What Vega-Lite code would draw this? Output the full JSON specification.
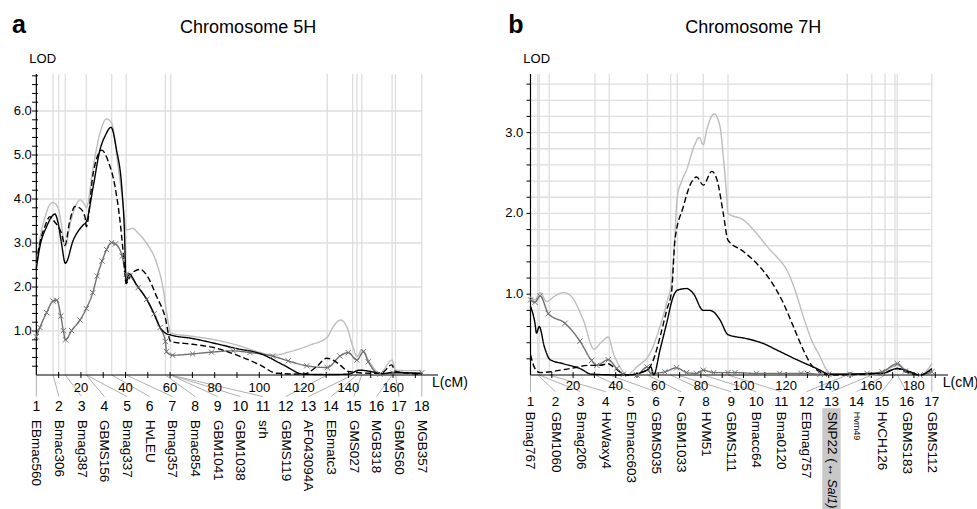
{
  "$schema": "https://vega.github.io/schema/vega-lite/v6.json",
  "padding": 0,
  "spacing": 0,
  "bounds": "flush",
  "background": "#ffffff",
  "config": {"view": {"stroke": null}, "font": "Liberation Sans", "axis": {"disable": true}},
  "datasets": {
    "a_hgrid": [{"v":1},{"v":2},{"v":3},{"v":4},{"v":5},{"v":6}],
    "a_yticks": [{"v":0.2},{"v":0.4},{"v":0.6},{"v":0.8},{"v":1},{"v":1.2},{"v":1.4},{"v":1.6},{"v":1.8},{"v":2},{"v":2.2},{"v":2.4},{"v":2.6},{"v":2.8},{"v":3},{"v":3.2},{"v":3.4},{"v":3.6},{"v":3.8},{"v":4},{"v":4.2},{"v":4.4},{"v":4.6},{"v":4.8},{"v":5},{"v":5.2},{"v":5.4},{"v":5.6},{"v":5.8},{"v":6},{"v":6.2},{"v":6.4},{"v":6.6},{"v":6.8}],
    "a_xticks": [{"v":10},{"v":20},{"v":30},{"v":40},{"v":50},{"v":60},{"v":70},{"v":80},{"v":90},{"v":100},{"v":110},{"v":120},{"v":130},{"v":140},{"v":150},{"v":160},{"v":170}],
    "a_vgrid": [{"pos":7.5},{"pos":10.0},{"pos":13.0},{"pos":22.4},{"pos":33.8},{"pos":40.3},{"pos":57.9},{"pos":60.3},{"pos":130.5},{"pos":141.9},{"pos":143.8},{"pos":146.0},{"pos":159.6},{"pos":161.1},{"pos":172.9}],
    "a_markers": [
      {"i":1,"name":"EBmac560","pos":0},{"i":2,"name":"Bmac306","pos":7.5},{"i":3,"name":"Bmag387","pos":13.0},
      {"i":4,"name":"GBMS156","pos":22.4},{"i":5,"name":"Bmag337","pos":22.4},{"i":6,"name":"HvLEU","pos":33.8},
      {"i":7,"name":"Bmag357","pos":40.3},{"i":8,"name":"Bmac854","pos":57.9},{"i":9,"name":"GBM1041","pos":60.3},
      {"i":10,"name":"GBM1038","pos":60.3},{"i":11,"name":"srh","pos":60.3},{"i":12,"name":"GBMS119","pos":130.5},
      {"i":13,"name":"AF043094A","pos":141.9},{"i":14,"name":"EBmatc3","pos":143.8},{"i":15,"name":"GMS027","pos":146.0},
      {"i":16,"name":"MGB318","pos":159.6},{"i":17,"name":"GBMS60","pos":161.1},{"i":18,"name":"MGB357","pos":172.9}
    ],
    "a_curves": [
      {"s":"L","cM":0,"lod":2.5},{"s":"L","cM":1.6,"lod":3.1},{"s":"L","cM":4.0,"lod":3.6},{"s":"L","cM":6.1,"lod":3.88},{"s":"L","cM":7.6,"lod":3.92},{"s":"L","cM":9.8,"lod":3.79},{"s":"L","cM":11.3,"lod":3.4},{"s":"L","cM":12.8,"lod":2.92},{"s":"L","cM":15.5,"lod":3.5},{"s":"L","cM":18.1,"lod":3.9},{"s":"L","cM":19.6,"lod":3.98},{"s":"L","cM":21.8,"lod":3.86},{"s":"L","cM":22.4,"lod":3.8},{"s":"L","cM":25.5,"lod":4.73},{"s":"L","cM":28.5,"lod":5.49},{"s":"L","cM":31.5,"lod":5.82},{"s":"L","cM":33.8,"lod":5.72},{"s":"L","cM":36.7,"lod":4.73},{"s":"L","cM":39.0,"lod":3.83},{"s":"L","cM":40.3,"lod":3.3},{"s":"L","cM":43.5,"lod":3.33},{"s":"L","cM":45.0,"lod":3.26},{"s":"L","cM":49.5,"lod":2.99},{"s":"L","cM":54.0,"lod":2.54},{"s":"L","cM":57.0,"lod":1.93},{"s":"L","cM":58.5,"lod":1.4},{"s":"L","cM":60.3,"lod":0.95},{"s":"L","cM":70,"lod":0.88},{"s":"L","cM":80,"lod":0.8},{"s":"L","cM":90,"lod":0.68},{"s":"L","cM":100,"lod":0.52},{"s":"L","cM":106.3,"lod":0.45},{"s":"L","cM":113.8,"lod":0.53},{"s":"L","cM":122.7,"lod":0.68},{"s":"L","cM":130.5,"lod":0.86},{"s":"L","cM":133.2,"lod":1.1},{"s":"L","cM":136.5,"lod":1.25},{"s":"L","cM":139.2,"lod":1.1},{"s":"L","cM":142.0,"lod":0.64},{"s":"L","cM":143.8,"lod":0.42},{"s":"L","cM":146.0,"lod":0.57},{"s":"L","cM":149.7,"lod":0.27},{"s":"L","cM":154.1,"lod":0.04},{"s":"L","cM":159.6,"lod":0.34},{"s":"L","cM":161.1,"lod":0.11},{"s":"L","cM":166,"lod":0.1},{"s":"L","cM":172.9,"lod":0.1},
      {"s":"X","cM":0,"lod":0.87},{"s":"X","cM":1.6,"lod":1.08},{"s":"X","cM":4.6,"lod":1.42},{"s":"X","cM":7.5,"lod":1.68},{"s":"X","cM":9.1,"lod":1.7},{"s":"X","cM":11.0,"lod":1.34},{"s":"X","cM":12.1,"lod":1.01},{"s":"X","cM":13.1,"lod":0.8},{"s":"X","cM":15.8,"lod":1.01},{"s":"X","cM":19.6,"lod":1.25},{"s":"X","cM":22.4,"lod":1.51},{"s":"X","cM":25.3,"lod":1.87},{"s":"X","cM":27.3,"lod":2.25},{"s":"X","cM":29.5,"lod":2.59},{"s":"X","cM":31.5,"lod":2.85},{"s":"X","cM":33.8,"lod":3.01},{"s":"X","cM":35.5,"lod":2.98},{"s":"X","cM":38.5,"lod":2.7},{"s":"X","cM":40.3,"lod":2.29},{"s":"X","cM":42.0,"lod":2.25},{"s":"X","cM":45.7,"lod":1.99},{"s":"X","cM":49.5,"lod":1.72},{"s":"X","cM":52.8,"lod":1.39},{"s":"X","cM":55.5,"lod":1.08},{"s":"X","cM":57.9,"lod":0.76},{"s":"X","cM":58.4,"lod":0.53},{"s":"X","cM":61.1,"lod":0.45},{"s":"X","cM":70.1,"lod":0.48},{"s":"X","cM":78.6,"lod":0.52},{"s":"X","cM":88.3,"lod":0.55},{"s":"X","cM":95.8,"lod":0.51},{"s":"X","cM":106,"lod":0.43},{"s":"X","cM":113,"lod":0.32},{"s":"X","cM":121.3,"lod":0.21},{"s":"X","cM":130.5,"lod":0.17},{"s":"X","cM":136.2,"lod":0.43},{"s":"X","cM":139.9,"lod":0.51},{"s":"X","cM":143.8,"lod":0.34},{"s":"X","cM":146.7,"lod":0.53},{"s":"X","cM":148.9,"lod":0.3},{"s":"X","cM":154.1,"lod":0.02},{"s":"X","cM":160,"lod":0.04},{"s":"X","cM":172.9,"lod":0.05},
      {"s":"D","cM":0,"lod":2.55},{"s":"D","cM":1.6,"lod":3.0},{"s":"D","cM":4.0,"lod":3.4},{"s":"D","cM":6.1,"lod":3.6},{"s":"D","cM":7.6,"lod":3.52},{"s":"D","cM":9.8,"lod":3.37},{"s":"D","cM":11.3,"lod":3.22},{"s":"D","cM":12.8,"lod":2.95},{"s":"D","cM":15.0,"lod":3.5},{"s":"D","cM":17.3,"lod":3.83},{"s":"D","cM":19.6,"lod":3.79},{"s":"D","cM":21.8,"lod":3.6},{"s":"D","cM":22.4,"lod":3.37},{"s":"D","cM":25.5,"lod":4.58},{"s":"D","cM":28.5,"lod":5.08},{"s":"D","cM":29.3,"lod":5.11},{"s":"D","cM":32.3,"lod":4.85},{"s":"D","cM":35.3,"lod":4.28},{"s":"D","cM":37.5,"lod":3.52},{"s":"D","cM":39.0,"lod":2.77},{"s":"D","cM":40.3,"lod":2.08},{"s":"D","cM":42.7,"lod":2.31},{"s":"D","cM":46.5,"lod":2.4},{"s":"D","cM":49.5,"lod":2.27},{"s":"D","cM":54.0,"lod":1.78},{"s":"D","cM":57.7,"lod":1.33},{"s":"D","cM":60.3,"lod":0.76},{"s":"D","cM":70,"lod":0.7},{"s":"D","cM":80,"lod":0.62},{"s":"D","cM":90,"lod":0.45},{"s":"D","cM":100.3,"lod":0.23},{"s":"D","cM":107.8,"lod":0.04},{"s":"D","cM":120,"lod":0.02},{"s":"D","cM":125.7,"lod":0.19},{"s":"D","cM":130.2,"lod":0.38},{"s":"D","cM":133.2,"lod":0.34},{"s":"D","cM":136.2,"lod":0.23},{"s":"D","cM":140.0,"lod":0.08},{"s":"D","cM":150,"lod":0.04},{"s":"D","cM":155,"lod":0.05},{"s":"D","cM":159.4,"lod":0.23},{"s":"D","cM":161.1,"lod":0.08},{"s":"D","cM":172.9,"lod":0.02},
      {"s":"B","cM":0,"lod":2.42},{"s":"B","cM":1.6,"lod":2.92},{"s":"B","cM":4.6,"lod":3.37},{"s":"B","cM":7.6,"lod":3.64},{"s":"B","cM":8.3,"lod":3.66},{"s":"B","cM":9.8,"lod":3.45},{"s":"B","cM":11.3,"lod":2.99},{"s":"B","cM":13.0,"lod":2.54},{"s":"B","cM":16.6,"lod":3.07},{"s":"B","cM":21.0,"lod":3.41},{"s":"B","cM":22.4,"lod":3.48},{"s":"B","cM":25.5,"lod":4.28},{"s":"B","cM":28.5,"lod":5.11},{"s":"B","cM":31.0,"lod":5.45},{"s":"B","cM":33.5,"lod":5.63},{"s":"B","cM":36.0,"lod":5.11},{"s":"B","cM":38.3,"lod":4.28},{"s":"B","cM":39.5,"lod":3.3},{"s":"B","cM":40.3,"lod":2.08},{"s":"B","cM":41.5,"lod":2.3},{"s":"B","cM":45.0,"lod":2.05},{"s":"B","cM":49.5,"lod":1.72},{"s":"B","cM":52.8,"lod":1.39},{"s":"B","cM":55.5,"lod":1.08},{"s":"B","cM":58.0,"lod":0.95},{"s":"B","cM":60.3,"lod":0.91},{"s":"B","cM":70,"lod":0.83},{"s":"B","cM":80,"lod":0.72},{"s":"B","cM":90,"lod":0.6},{"s":"B","cM":100.3,"lod":0.49},{"s":"B","cM":110.8,"lod":0.23},{"s":"B","cM":119.7,"lod":0.02},{"s":"B","cM":130,"lod":0.01},{"s":"B","cM":140,"lod":0.02},{"s":"B","cM":145,"lod":0.11},{"s":"B","cM":150,"lod":0.08},{"s":"B","cM":155,"lod":0.03},{"s":"B","cM":160,"lod":0.06},{"s":"B","cM":172.9,"lod":0.03}
    ],
    "b_hgrid": [{"v":0.2},{"v":0.4},{"v":0.6},{"v":0.8},{"v":1},{"v":1.2},{"v":1.4},{"v":1.6},{"v":1.8},{"v":2},{"v":2.2},{"v":2.4},{"v":2.6},{"v":2.8},{"v":3},{"v":3.2},{"v":3.4},{"v":3.6}],
    "b_xticks": [{"v":10},{"v":20},{"v":30},{"v":40},{"v":50},{"v":60},{"v":70},{"v":80},{"v":90},{"v":100},{"v":110},{"v":120},{"v":130},{"v":140},{"v":150},{"v":160},{"v":170},{"v":180},{"v":190}],
    "b_vgrid": [{"pos":3.4},{"pos":4.1},{"pos":8.8},{"pos":30.3},{"pos":37.0},{"pos":54.9},{"pos":65.8},{"pos":68.9},{"pos":81.1},{"pos":92.7},{"pos":148.7},{"pos":160.2},{"pos":166.4},{"pos":171.1},{"pos":172.2},{"pos":188.4}],
    "b_markers": [
      {"i":1,"name":"Bmag767","pos":0},{"i":2,"name":"GBM1060","pos":3.4},{"i":3,"name":"Bmag206","pos":4.1},
      {"i":4,"name":"HvWaxy4","pos":8.8},{"i":5,"name":"Ebmacc603","pos":30.3},{"i":6,"name":"GBMS035","pos":37.0},
      {"i":7,"name":"GBM1033","pos":54.9},{"i":8,"name":"HVM51","pos":65.8},{"i":9,"name":"GBMS111","pos":68.9},
      {"i":10,"name":"Bmacc64","pos":81.1},{"i":11,"name":"Bma0120","pos":92.7},{"i":12,"name":"EBmag757","pos":148.7},
      {"i":13,"name":"SNP22 (↔","it":"Sal1)","pos":160.2},{"i":14,"name":"Hvm49","pos":166.4},{"i":15,"name":"HvCH126","pos":171.1},
      {"i":16,"name":"GBMS183","pos":172.2},{"i":17,"name":"GBMS112","pos":188.4}
    ],
    "b_curves": [
      {"s":"L","cM":0,"lod":0.97},{"s":"L","cM":2.1,"lod":0.93},{"s":"L","cM":4.5,"lod":1.02},{"s":"L","cM":7.6,"lod":0.91},{"s":"L","cM":11,"lod":0.97},{"s":"L","cM":15.4,"lod":1.02},{"s":"L","cM":18.5,"lod":0.99},{"s":"L","cM":24.8,"lod":0.68},{"s":"L","cM":29.8,"lod":0.32},{"s":"L","cM":33.4,"lod":0.41},{"s":"L","cM":36.5,"lod":0.47},{"s":"L","cM":38.9,"lod":0.27},{"s":"L","cM":42.0,"lod":0.1},{"s":"L","cM":45.2,"lod":0.0},{"s":"L","cM":49.9,"lod":0.1},{"s":"L","cM":56.1,"lod":0.27},{"s":"L","cM":60.8,"lod":0.6},{"s":"L","cM":63.9,"lod":0.89},{"s":"L","cM":66.3,"lod":1.18},{"s":"L","cM":67.5,"lod":1.6},{"s":"L","cM":68.9,"lod":2.2},{"s":"L","cM":71,"lod":2.4},{"s":"L","cM":73.3,"lod":2.54},{"s":"L","cM":76.8,"lod":2.83},{"s":"L","cM":79.2,"lod":2.94},{"s":"L","cM":81.1,"lod":2.85},{"s":"L","cM":82.7,"lod":3.03},{"s":"L","cM":85.5,"lod":3.22},{"s":"L","cM":86.2,"lod":3.23},{"s":"L","cM":89.0,"lod":3.07},{"s":"L","cM":90.5,"lod":2.7},{"s":"L","cM":92.0,"lod":2.25},{"s":"L","cM":92.7,"lod":2.0},{"s":"L","cM":99.9,"lod":1.92},{"s":"L","cM":106.2,"lod":1.75},{"s":"L","cM":112.4,"lod":1.55},{"s":"L","cM":116,"lod":1.45},{"s":"L","cM":120.3,"lod":1.3},{"s":"L","cM":124.2,"lod":1.05},{"s":"L","cM":128.1,"lod":0.72},{"s":"L","cM":132.0,"lod":0.43},{"s":"L","cM":135.9,"lod":0.23},{"s":"L","cM":139.1,"lod":0.06},{"s":"L","cM":142.2,"lod":0.0},{"s":"L","cM":160,"lod":0.0},{"s":"L","cM":165.6,"lod":0.04},{"s":"L","cM":172.2,"lod":0.12},{"s":"L","cM":176.6,"lod":0.06},{"s":"L","cM":182.9,"lod":0.0},{"s":"L","cM":188.4,"lod":0.14},
      {"s":"X","cM":0,"lod":0.93},{"s":"X","cM":2.1,"lod":0.9},{"s":"X","cM":4.5,"lod":0.98},{"s":"X","cM":8.4,"lod":0.76},{"s":"X","cM":16.2,"lod":0.64},{"s":"X","cM":23.2,"lod":0.42},{"s":"X","cM":28.7,"lod":0.18},{"s":"X","cM":31.1,"lod":0.12},{"s":"X","cM":36.5,"lod":0.19},{"s":"X","cM":40.5,"lod":0.08},{"s":"X","cM":43.6,"lod":0.01},{"s":"X","cM":50,"lod":0.0},{"s":"X","cM":54.6,"lod":0.1},{"s":"X","cM":56.5,"lod":0.02},{"s":"X","cM":63.1,"lod":0.04},{"s":"X","cM":68.6,"lod":0.09},{"s":"X","cM":73.3,"lod":0.03},{"s":"X","cM":78,"lod":0.02},{"s":"X","cM":81.1,"lod":0.06},{"s":"X","cM":86,"lod":0.03},{"s":"X","cM":92.7,"lod":0.03},{"s":"X","cM":96,"lod":0.03},{"s":"X","cM":106,"lod":0.02},{"s":"X","cM":117,"lod":0.02},{"s":"X","cM":127,"lod":0.02},{"s":"X","cM":130,"lod":0.02},{"s":"X","cM":136,"lod":0.01},{"s":"X","cM":140,"lod":0.01},{"s":"X","cM":150,"lod":0.01},{"s":"X","cM":158,"lod":0.02},{"s":"X","cM":165,"lod":0.04},{"s":"X","cM":172.2,"lod":0.14},{"s":"X","cM":176,"lod":0.05},{"s":"X","cM":182.9,"lod":0.0},{"s":"X","cM":188.4,"lod":0.04},
      {"s":"D","cM":0,"lod":0.25},{"s":"D","cM":2.1,"lod":0.08},{"s":"D","cM":4.5,"lod":0.03},{"s":"D","cM":9.2,"lod":0.04},{"s":"D","cM":18.5,"lod":0.08},{"s":"D","cM":27.9,"lod":0.12},{"s":"D","cM":32.6,"lod":0.12},{"s":"D","cM":36.5,"lod":0.14},{"s":"D","cM":38.9,"lod":0.1},{"s":"D","cM":45.2,"lod":0.0},{"s":"D","cM":54.6,"lod":0.06},{"s":"D","cM":57.7,"lod":0.19},{"s":"D","cM":60.8,"lod":0.47},{"s":"D","cM":63.9,"lod":0.8},{"s":"D","cM":66.3,"lod":1.05},{"s":"D","cM":67.8,"lod":1.67},{"s":"D","cM":71.7,"lod":2.08},{"s":"D","cM":74.9,"lod":2.35},{"s":"D","cM":78.0,"lod":2.45},{"s":"D","cM":81.1,"lod":2.35},{"s":"D","cM":85.1,"lod":2.52},{"s":"D","cM":87.4,"lod":2.43},{"s":"D","cM":90.5,"lod":2.0},{"s":"D","cM":92.7,"lod":1.67},{"s":"D","cM":99.9,"lod":1.53},{"s":"D","cM":106.2,"lod":1.38},{"s":"D","cM":112.4,"lod":1.18},{"s":"D","cM":118.7,"lod":0.89},{"s":"D","cM":123.4,"lod":0.6},{"s":"D","cM":128.1,"lod":0.31},{"s":"D","cM":132.0,"lod":0.12},{"s":"D","cM":135.9,"lod":0.04},{"s":"D","cM":140,"lod":0.0},{"s":"D","cM":165,"lod":0.02},{"s":"D","cM":172.2,"lod":0.08},{"s":"D","cM":176,"lod":0.04},{"s":"D","cM":182.9,"lod":0.0},{"s":"D","cM":188.4,"lod":0.07},
      {"s":"B","cM":0,"lod":0.85},{"s":"B","cM":2.1,"lod":0.64},{"s":"B","cM":2.8,"lod":0.52},{"s":"B","cM":4.1,"lod":0.6},{"s":"B","cM":6.5,"lod":0.35},{"s":"B","cM":9.2,"lod":0.19},{"s":"B","cM":15.4,"lod":0.14},{"s":"B","cM":23.2,"lod":0.08},{"s":"B","cM":28.7,"lod":0.01},{"s":"B","cM":45,"lod":0.0},{"s":"B","cM":54.6,"lod":0.06},{"s":"B","cM":56.5,"lod":0.1},{"s":"B","cM":57.8,"lod":0.0},{"s":"B","cM":60.8,"lod":0.31},{"s":"B","cM":63.9,"lod":0.64},{"s":"B","cM":67.0,"lod":0.97},{"s":"B","cM":68.9,"lod":1.05},{"s":"B","cM":73.3,"lod":1.07},{"s":"B","cM":76.4,"lod":1.01},{"s":"B","cM":81.1,"lod":0.8},{"s":"B","cM":84,"lod":0.8},{"s":"B","cM":86,"lod":0.78},{"s":"B","cM":89.0,"lod":0.68},{"s":"B","cM":92.7,"lod":0.5},{"s":"B","cM":101.5,"lod":0.45},{"s":"B","cM":109.3,"lod":0.39},{"s":"B","cM":115.6,"lod":0.31},{"s":"B","cM":125.0,"lod":0.19},{"s":"B","cM":134.4,"lod":0.08},{"s":"B","cM":140.6,"lod":0.01},{"s":"B","cM":165,"lod":0.02},{"s":"B","cM":172.2,"lod":0.08},{"s":"B","cM":178.2,"lod":0.04},{"s":"B","cM":182.9,"lod":0.0},{"s":"B","cM":188.4,"lod":0.08}
    ]
  },
  "hconcat": [
    {
      "width": 488,
      "height": 509,
      "layer": [
        {"data": {"name": "a_hgrid"}, "mark": {"type": "rule", "color": "#dedede", "strokeWidth": 1.3},
         "encoding": {
           "y": {"field": "v", "type": "quantitative", "scale": {"domain": [-3.045, 8.523], "nice": false, "zero": false}, "axis": null},
           "x": {"datum": 0, "type": "quantitative", "scale": {"domain": [-16.3, 202.6], "nice": false, "zero": false}, "axis": null},
           "x2": {"datum": 172.9}
         }},
        {"data": {"name": "a_vgrid"}, "mark": {"type": "rule", "color": "#dedede", "strokeWidth": 1.3},
         "encoding": {
           "x": {"field": "pos", "type": "quantitative", "scale": {"domain": [-16.3, 202.6], "nice": false, "zero": false}, "axis": null},
           "y": {"datum": 0, "type": "quantitative", "scale": {"domain": [-3.045, 8.523], "nice": false, "zero": false}, "axis": null},
           "y2": {"datum": 6.84}
         }},
        {"data": {"name": "a_markers"}, "transform": [{"calculate": "(datum.i - 1) * 10.17", "as": "slot"}],
         "mark": {"type": "rule", "color": "#b0b0b0", "strokeWidth": 1},
         "encoding": {
           "x": {"field": "pos", "type": "quantitative", "scale": {"domain": [-16.3, 202.6], "nice": false, "zero": false}, "axis": null},
           "x2": {"field": "slot"},
           "y": {"datum": 0, "type": "quantitative", "scale": {"domain": [-3.045, 8.523], "nice": false, "zero": false}, "axis": null},
           "y2": {"datum": -0.49}
         }},
        {"data": {"values": [{}]}, "mark": {"type": "rule", "color": "#000000", "strokeWidth": 1.2},
         "encoding": {
           "x": {"datum": 0, "type": "quantitative", "scale": {"domain": [-16.3, 202.6], "nice": false, "zero": false}, "axis": null},
           "y": {"datum": 0, "type": "quantitative", "scale": {"domain": [-3.045, 8.523], "nice": false, "zero": false}, "axis": null},
           "y2": {"datum": 6.84}
         }},
        {"data": {"values": [{}]}, "mark": {"type": "rule", "color": "#000000", "strokeWidth": 1.2},
         "encoding": {
           "x": {"datum": 0, "type": "quantitative", "scale": {"domain": [-16.3, 202.6], "nice": false, "zero": false}, "axis": null},
           "x2": {"datum": 180.2},
           "y": {"datum": 0, "type": "quantitative", "scale": {"domain": [-3.045, 8.523], "nice": false, "zero": false}, "axis": null}
         }},
        {"data": {"name": "a_yticks"},
         "mark": {"type": "point", "shape": "M-1,0L1,0", "size": 36, "filled": false, "stroke": "#000000", "strokeWidth": 1, "opacity": 1},
         "encoding": {
           "x": {"datum": -0.58, "type": "quantitative", "scale": {"domain": [-16.3, 202.6], "nice": false, "zero": false}, "axis": null},
           "y": {"field": "v", "type": "quantitative", "scale": {"domain": [-3.045, 8.523], "nice": false, "zero": false}, "axis": null}
         }},
        {"data": {"name": "a_xticks"},
         "mark": {"type": "point", "shape": "M0,-1L0,1", "size": 36, "filled": false, "stroke": "#000000", "strokeWidth": 1, "opacity": 1},
         "encoding": {
           "x": {"field": "v", "type": "quantitative", "scale": {"domain": [-16.3, 202.6], "nice": false, "zero": false}, "axis": null},
           "y": {"datum": 0, "type": "quantitative", "scale": {"domain": [-3.045, 8.523], "nice": false, "zero": false}, "axis": null}
         }},
        {"data": {"name": "a_hgrid"},
         "mark": {"type": "text", "fontSize": 13, "align": "right", "baseline": "middle", "color": "#000000"},
         "encoding": {
           "x": {"datum": -2.06, "type": "quantitative", "scale": {"domain": [-16.3, 202.6], "nice": false, "zero": false}, "axis": null},
           "y": {"field": "v", "type": "quantitative", "scale": {"domain": [-3.045, 8.523], "nice": false, "zero": false}, "axis": null},
           "text": {"field": "v", "type": "quantitative", "format": ".1f"}
         }},
        {"data": {"name": "a_xticks"}, "transform": [{"filter": "datum.v % 20 == 0"}],
         "mark": {"type": "text", "fontSize": 13, "align": "center", "baseline": "middle", "color": "#000000"},
         "encoding": {
           "x": {"field": "v", "type": "quantitative", "scale": {"domain": [-16.3, 202.6], "nice": false, "zero": false}, "axis": null},
           "y": {"datum": -0.295, "type": "quantitative", "scale": {"domain": [-3.045, 8.523], "nice": false, "zero": false}, "axis": null},
           "text": {"field": "v", "type": "nominal"}
         }},
        {"data": {"name": "a_curves"}, "mark": {"type": "line", "interpolate": "monotone", "strokeWidth": 1.4},
         "encoding": {
           "x": {"field": "cM", "type": "quantitative", "scale": {"domain": [-16.3, 202.6], "nice": false, "zero": false}, "axis": null},
           "y": {"field": "lod", "type": "quantitative", "scale": {"domain": [-3.045, 8.523], "nice": false, "zero": false}, "axis": null},
           "color": {"field": "s", "type": "nominal", "scale": {"domain": ["L","X","D","B"], "range": ["#bdbdbd","#707070","#000000","#000000"]}, "legend": null},
           "strokeDash": {"field": "s", "type": "nominal", "scale": {"domain": ["L","X","D","B"], "range": [[1,0],[1,0],[6,3],[1,0]]}, "legend": null}
         }},
        {"data": {"name": "a_curves"}, "transform": [{"filter": "datum.s == 'X'"}],
         "mark": {"type": "point", "shape": "M-1,-1L1,1M-1,1L1,-1", "size": 28, "filled": false, "stroke": "#707070", "strokeWidth": 1, "opacity": 1},
         "encoding": {
           "x": {"field": "cM", "type": "quantitative", "scale": {"domain": [-16.3, 202.6], "nice": false, "zero": false}, "axis": null},
           "y": {"field": "lod", "type": "quantitative", "scale": {"domain": [-3.045, 8.523], "nice": false, "zero": false}, "axis": null}
         }},
        {"data": {"name": "a_markers"}, "transform": [{"calculate": "(datum.i - 1) * 10.17", "as": "slot"}],
         "mark": {"type": "text", "fontSize": 14, "align": "center", "baseline": "middle", "color": "#000000"},
         "encoding": {
           "x": {"field": "slot", "type": "quantitative", "scale": {"domain": [-16.3, 202.6], "nice": false, "zero": false}, "axis": null},
           "y": {"datum": -0.72, "type": "quantitative", "scale": {"domain": [-3.045, 8.523], "nice": false, "zero": false}, "axis": null},
           "text": {"field": "i", "type": "nominal"}
         }},
        {"data": {"name": "a_markers"}, "transform": [{"calculate": "(datum.i - 1) * 10.17", "as": "slot"}],
         "mark": {"type": "text", "fontSize": 13.5, "align": "left", "baseline": "middle", "angle": 90, "color": "#000000"},
         "encoding": {
           "x": {"field": "slot", "type": "quantitative", "scale": {"domain": [-16.3, 202.6], "nice": false, "zero": false}, "axis": null},
           "y": {"datum": -1.023, "type": "quantitative", "scale": {"domain": [-3.045, 8.523], "nice": false, "zero": false}, "axis": null},
           "text": {"field": "name", "type": "nominal"}
         }},
        {"data": {"values": [{}]}, "mark": {"type": "text", "text": "Chromosome 5H", "fontSize": 18, "align": "center", "baseline": "alphabetic", "color": "#000000"},
         "encoding": {
           "x": {"datum": 95.0, "type": "quantitative", "scale": {"domain": [-16.3, 202.6], "nice": false, "zero": false}, "axis": null},
           "y": {"datum": 7.766, "type": "quantitative", "scale": {"domain": [-3.045, 8.523], "nice": false, "zero": false}, "axis": null}
         }},
        {"data": {"values": [{}]}, "mark": {"type": "text", "text": "a", "fontSize": 25, "fontWeight": "bold", "align": "left", "baseline": "alphabetic", "color": "#000000"},
         "encoding": {
           "x": {"datum": -10.9, "type": "quantitative", "scale": {"domain": [-16.3, 202.6], "nice": false, "zero": false}, "axis": null},
           "y": {"datum": 7.766, "type": "quantitative", "scale": {"domain": [-3.045, 8.523], "nice": false, "zero": false}, "axis": null}
         }},
        {"data": {"values": [{}]}, "mark": {"type": "text", "text": "LOD", "fontSize": 13, "align": "left", "baseline": "alphabetic", "color": "#000000"},
         "encoding": {
           "x": {"datum": -3.14, "type": "quantitative", "scale": {"domain": [-16.3, 202.6], "nice": false, "zero": false}, "axis": null},
           "y": {"datum": 7.1, "type": "quantitative", "scale": {"domain": [-3.045, 8.523], "nice": false, "zero": false}, "axis": null}
         }},
        {"data": {"values": [{}]}, "mark": {"type": "text", "text": "L(cM)", "fontSize": 14, "align": "left", "baseline": "middle", "color": "#000000"},
         "encoding": {
           "x": {"datum": 177.5, "type": "quantitative", "scale": {"domain": [-16.3, 202.6], "nice": false, "zero": false}, "axis": null},
           "y": {"datum": -0.18, "type": "quantitative", "scale": {"domain": [-3.045, 8.523], "nice": false, "zero": false}, "axis": null}
         }}
      ]
    },
    {
      "width": 489,
      "height": 509,
      "layer": [
        {"data": {"name": "b_hgrid"}, "mark": {"type": "rule", "color": "#dedede", "strokeWidth": 1.3},
         "encoding": {
           "y": {"field": "v", "type": "quantitative", "scale": {"domain": [-1.658, 4.641], "nice": false, "zero": false}, "axis": null},
           "x": {"datum": 0, "type": "quantitative", "scale": {"domain": [-19.95, 209.6], "nice": false, "zero": false}, "axis": null},
           "x2": {"datum": 188.4}
         }},
        {"data": {"name": "b_vgrid"}, "mark": {"type": "rule", "color": "#dedede", "strokeWidth": 1.3},
         "encoding": {
           "x": {"field": "pos", "type": "quantitative", "scale": {"domain": [-19.95, 209.6], "nice": false, "zero": false}, "axis": null},
           "y": {"datum": 0, "type": "quantitative", "scale": {"domain": [-1.658, 4.641], "nice": false, "zero": false}, "axis": null},
           "y2": {"datum": 3.725}
         }},
        {"data": {"name": "b_markers"}, "transform": [{"calculate": "(datum.i - 1) * 11.775", "as": "slot"}],
         "mark": {"type": "rule", "color": "#b0b0b0", "strokeWidth": 1},
         "encoding": {
           "x": {"field": "pos", "type": "quantitative", "scale": {"domain": [-19.95, 209.6], "nice": false, "zero": false}, "axis": null},
           "x2": {"field": "slot"},
           "y": {"datum": 0, "type": "quantitative", "scale": {"domain": [-1.658, 4.641], "nice": false, "zero": false}, "axis": null},
           "y2": {"datum": -0.207}
         }},
        {"data": {"values": [{}]}, "mark": {"type": "rule", "color": "#000000", "strokeWidth": 1.2},
         "encoding": {
           "x": {"datum": 0, "type": "quantitative", "scale": {"domain": [-19.95, 209.6], "nice": false, "zero": false}, "axis": null},
           "y": {"datum": 0, "type": "quantitative", "scale": {"domain": [-1.658, 4.641], "nice": false, "zero": false}, "axis": null},
           "y2": {"datum": 3.725}
         }},
        {"data": {"values": [{}]}, "mark": {"type": "rule", "color": "#000000", "strokeWidth": 1.2},
         "encoding": {
           "x": {"datum": 0, "type": "quantitative", "scale": {"domain": [-19.95, 209.6], "nice": false, "zero": false}, "axis": null},
           "x2": {"datum": 196},
           "y": {"datum": 0, "type": "quantitative", "scale": {"domain": [-1.658, 4.641], "nice": false, "zero": false}, "axis": null}
         }},
        {"data": {"name": "b_hgrid"},
         "mark": {"type": "point", "shape": "M-1,0L1,0", "size": 16, "filled": false, "stroke": "#000000", "strokeWidth": 1, "opacity": 1},
         "encoding": {
           "x": {"datum": -0.94, "type": "quantitative", "scale": {"domain": [-19.95, 209.6], "nice": false, "zero": false}, "axis": null},
           "y": {"field": "v", "type": "quantitative", "scale": {"domain": [-1.658, 4.641], "nice": false, "zero": false}, "axis": null}
         }},
        {"data": {"name": "b_xticks"},
         "mark": {"type": "point", "shape": "M0,-1L0,1", "size": 36, "filled": false, "stroke": "#000000", "strokeWidth": 1, "opacity": 1},
         "encoding": {
           "x": {"field": "v", "type": "quantitative", "scale": {"domain": [-19.95, 209.6], "nice": false, "zero": false}, "axis": null},
           "y": {"datum": 0, "type": "quantitative", "scale": {"domain": [-1.658, 4.641], "nice": false, "zero": false}, "axis": null}
         }},
        {"data": {"name": "b_hgrid"}, "transform": [{"filter": "datum.v % 1 == 0"}],
         "mark": {"type": "text", "fontSize": 13, "align": "right", "baseline": "middle", "color": "#000000"},
         "encoding": {
           "x": {"datum": -3.38, "type": "quantitative", "scale": {"domain": [-19.95, 209.6], "nice": false, "zero": false}, "axis": null},
           "y": {"field": "v", "type": "quantitative", "scale": {"domain": [-1.658, 4.641], "nice": false, "zero": false}, "axis": null},
           "text": {"field": "v", "type": "quantitative", "format": ".1f"}
         }},
        {"data": {"name": "b_xticks"}, "transform": [{"filter": "datum.v % 20 == 0"}],
         "mark": {"type": "text", "fontSize": 13, "align": "center", "baseline": "middle", "color": "#000000"},
         "encoding": {
           "x": {"field": "v", "type": "quantitative", "scale": {"domain": [-19.95, 209.6], "nice": false, "zero": false}, "axis": null},
           "y": {"datum": -0.142, "type": "quantitative", "scale": {"domain": [-1.658, 4.641], "nice": false, "zero": false}, "axis": null},
           "text": {"field": "v", "type": "nominal"}
         }},
        {"data": {"name": "b_curves"}, "mark": {"type": "line", "interpolate": "monotone", "strokeWidth": 1.4},
         "encoding": {
           "x": {"field": "cM", "type": "quantitative", "scale": {"domain": [-19.95, 209.6], "nice": false, "zero": false}, "axis": null},
           "y": {"field": "lod", "type": "quantitative", "scale": {"domain": [-1.658, 4.641], "nice": false, "zero": false}, "axis": null},
           "color": {"field": "s", "type": "nominal", "scale": {"domain": ["L","X","D","B"], "range": ["#bdbdbd","#707070","#000000","#000000"]}, "legend": null},
           "strokeDash": {"field": "s", "type": "nominal", "scale": {"domain": ["L","X","D","B"], "range": [[1,0],[1,0],[6,3],[1,0]]}, "legend": null}
         }},
        {"data": {"name": "b_curves"}, "transform": [{"filter": "datum.s == 'X'"}],
         "mark": {"type": "point", "shape": "M-1,-1L1,1M-1,1L1,-1", "size": 28, "filled": false, "stroke": "#707070", "strokeWidth": 1, "opacity": 1},
         "encoding": {
           "x": {"field": "cM", "type": "quantitative", "scale": {"domain": [-19.95, 209.6], "nice": false, "zero": false}, "axis": null},
           "y": {"field": "lod", "type": "quantitative", "scale": {"domain": [-1.658, 4.641], "nice": false, "zero": false}, "axis": null}
         }},
        {"data": {"name": "b_markers"}, "transform": [{"filter": "datum.it"}, {"calculate": "(datum.i - 1) * 11.775 - 4.3", "as": "bx1"}, {"calculate": "(datum.i - 1) * 11.775 + 4.3", "as": "bx2"}],
         "mark": {"type": "rect", "color": "#c8c8c8", "clip": true},
         "encoding": {
           "x": {"field": "bx1", "type": "quantitative", "scale": {"domain": [-19.95, 209.6], "nice": false, "zero": false}, "axis": null},
           "x2": {"field": "bx2"},
           "y": {"datum": -0.412, "type": "quantitative", "scale": {"domain": [-1.658, 4.641], "nice": false, "zero": false}, "axis": null},
           "y2": {"datum": -1.658}
         }},
        {"data": {"name": "b_markers"}, "transform": [{"calculate": "(datum.i - 1) * 11.775", "as": "slot"}],
         "mark": {"type": "text", "fontSize": 13.5, "align": "center", "baseline": "middle", "color": "#000000"},
         "encoding": {
           "x": {"field": "slot", "type": "quantitative", "scale": {"domain": [-19.95, 209.6], "nice": false, "zero": false}, "axis": null},
           "y": {"datum": -0.34, "type": "quantitative", "scale": {"domain": [-1.658, 4.641], "nice": false, "zero": false}, "axis": null},
           "text": {"field": "i", "type": "nominal"}
         }},
        {"data": {"name": "b_markers"}, "transform": [{"calculate": "(datum.i - 1) * 11.775", "as": "slot"}],
         "mark": {"type": "text", "align": "left", "baseline": "middle", "angle": 90, "color": "#000000", "clip": true},
         "encoding": {
           "x": {"field": "slot", "type": "quantitative", "scale": {"domain": [-19.95, 209.6], "nice": false, "zero": false}, "axis": null},
           "y": {"datum": -0.454, "type": "quantitative", "scale": {"domain": [-1.658, 4.641], "nice": false, "zero": false}, "axis": null},
           "text": {"field": "name", "type": "nominal"},
           "size": {"condition": {"test": "datum.name == 'Hvm49'", "value": 9}, "value": 13.5}
         }},
        {"data": {"name": "b_markers"}, "transform": [{"filter": "datum.it"}, {"calculate": "(datum.i - 1) * 11.775", "as": "slot"}],
         "mark": {"type": "text", "fontSize": 12.5, "fontStyle": "italic", "align": "left", "baseline": "middle", "angle": 90, "color": "#000000", "clip": true},
         "encoding": {
           "x": {"field": "slot", "type": "quantitative", "scale": {"domain": [-19.95, 209.6], "nice": false, "zero": false}, "axis": null},
           "y": {"datum": -1.29, "type": "quantitative", "scale": {"domain": [-1.658, 4.641], "nice": false, "zero": false}, "axis": null},
           "text": {"field": "it", "type": "nominal"}
         }},
        {"data": {"values": [{}]}, "mark": {"type": "text", "text": "Chromosome 7H", "fontSize": 18, "align": "center", "baseline": "alphabetic", "color": "#000000"},
         "encoding": {
           "x": {"datum": 104.6, "type": "quantitative", "scale": {"domain": [-19.95, 209.6], "nice": false, "zero": false}, "axis": null},
           "y": {"datum": 4.229, "type": "quantitative", "scale": {"domain": [-1.658, 4.641], "nice": false, "zero": false}, "axis": null}
         }},
        {"data": {"values": [{}]}, "mark": {"type": "text", "text": "b", "fontSize": 25, "fontWeight": "bold", "align": "left", "baseline": "alphabetic", "color": "#000000"},
         "encoding": {
           "x": {"datum": -10.4, "type": "quantitative", "scale": {"domain": [-19.95, 209.6], "nice": false, "zero": false}, "axis": null},
           "y": {"datum": 4.229, "type": "quantitative", "scale": {"domain": [-1.658, 4.641], "nice": false, "zero": false}, "axis": null}
         }},
        {"data": {"values": [{}]}, "mark": {"type": "text", "text": "LOD", "fontSize": 13, "align": "left", "baseline": "alphabetic", "color": "#000000"},
         "encoding": {
           "x": {"datum": -3.38, "type": "quantitative", "scale": {"domain": [-19.95, 209.6], "nice": false, "zero": false}, "axis": null},
           "y": {"datum": 3.865, "type": "quantitative", "scale": {"domain": [-1.658, 4.641], "nice": false, "zero": false}, "axis": null}
         }},
        {"data": {"values": [{}]}, "mark": {"type": "text", "text": "L(cM)", "fontSize": 14, "align": "left", "baseline": "middle", "color": "#000000"},
         "encoding": {
           "x": {"datum": 193.5, "type": "quantitative", "scale": {"domain": [-19.95, 209.6], "nice": false, "zero": false}, "axis": null},
           "y": {"datum": -0.099, "type": "quantitative", "scale": {"domain": [-1.658, 4.641], "nice": false, "zero": false}, "axis": null}
         }}
      ]
    }
  ]
}
